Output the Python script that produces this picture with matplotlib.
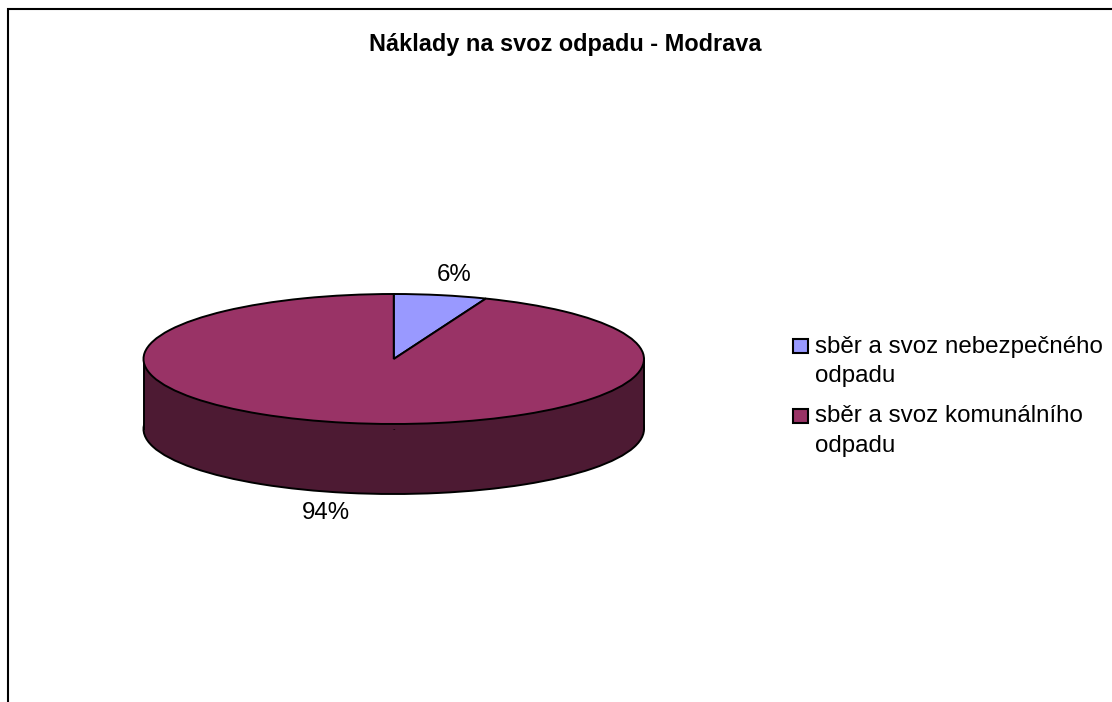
import matplotlib
matplotlib.use("Agg")
import matplotlib.pyplot as plt
from matplotlib.patches import Rectangle

plt.rcParams['font.family'] = ['Liberation Sans', 'DejaVu Sans']

title = "Náklady na svoz odpadu - Modrava"
categories = ["sběr a svoz nebezpečného\nodpadu", "sběr a svoz komunálního\nodpadu"]
values = [6, 94]
pct_labels = ["6%", "94%"]
top_colors = ["#9999FF", "#993366"]
side_colors = ["#4D4D80", "#4D1A33"]

W, H = 1112, 702
fig = plt.figure(figsize=(W / 100, H / 100), dpi=100, facecolor="white")

def px_axes(x0, y0, x1, y1):
    return fig.add_axes([x0 / W, 1 - y1 / H, (x1 - x0) / W, (y1 - y0) / H])

# Frame (open at right and bottom, as cropped in the reference)
bg = fig.add_axes([0, 0, 1, 1])
bg.set_xlim(0, W); bg.set_ylim(H, 0); bg.axis("off")
bg.plot([7.5, 7.5, W], [H, 8.5, 8.5], color="black", lw=1.5, solid_joinstyle="miter")
bg.text(565, 45, title, ha="center", va="center", fontsize=16.9, fontweight="bold")

# Pie: ellipse obtained with a non-equal aspect, thickness from a lower copy
x0, x1, ytop, ybot, ywall = 143.5, 644, 294, 424, 494
ry = (ybot - ytop) / 2
depth = (ywall - ybot) / ry
ax = px_axes(x0, ytop, x1, ywall)

# wall
ax.pie(values, startangle=90, counterclock=False, colors=side_colors,
       center=(0, -depth), radius=1, wedgeprops=dict(edgecolor="black", linewidth=1.4))
ax.add_patch(Rectangle((-1, -depth), 2, depth, facecolor=side_colors[1], edgecolor="none", zorder=1.5))
ax.plot([-1, -1], [0, -depth], color="black", lw=1.4, zorder=1.6, clip_on=False)
ax.plot([1, 1], [0, -depth], color="black", lw=1.4, zorder=1.6, clip_on=False)
# top
wedges, _ = ax.pie(values, startangle=90, counterclock=False, colors=top_colors,
                   wedgeprops=dict(edgecolor="black", linewidth=1.4))
for w in wedges:
    w.set_zorder(3)
ax.set_aspect("auto")
ax.set_xlim(-1, 1)
ax.set_ylim(-1 - depth, 1)
ax.axis("off")
for c in ax.patches:
    c.set_clip_on(False)

# Data labels
bg.text(454.5, 275, pct_labels[0], ha="center", va="center", fontsize=17.3)
bg.text(326, 513, pct_labels[1], ha="center", va="center", fontsize=17.3)

# Legend: swatch beside the first line of each two-line entry
for i, (label, color) in enumerate(zip(categories, top_colors)):
    top = 338.5 + 70 * i
    bg.add_patch(Rectangle((793, top), 14.5, 14.5, facecolor=color, edgecolor="black", linewidth=1.5))
    bg.text(815, top - 3, label, ha="left", va="top", fontsize=17.35, linespacing=1.45)

fig.savefig("out.png", dpi=100)
